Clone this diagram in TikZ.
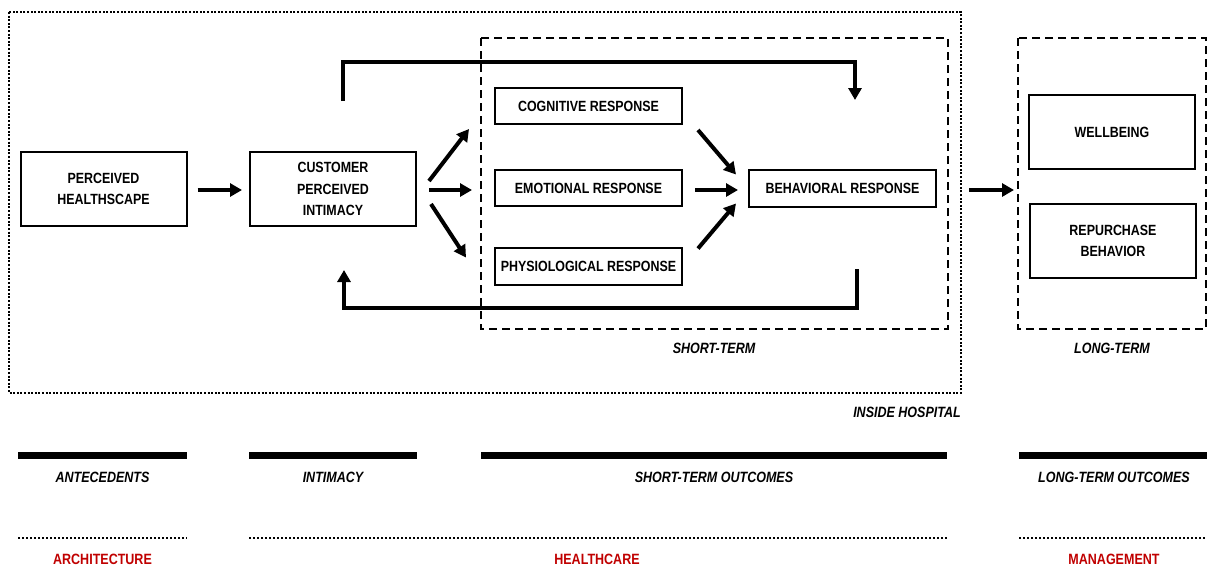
\documentclass[tikz,border=0pt]{standalone}
\usepackage{fontspec}
\setmainfont{Liberation Sans}[FakeStretch=0.84]
\usetikzlibrary{arrows.meta,calc}
\definecolor{redlab}{HTML}{C00000}
\tikzset{
  box/.style={draw,line width=2pt,minimum width=#1,inner sep=0pt,align=center,font=\fontsize{14.8}{21.5}\selectfont\bfseries},
  box/.default=166pt,
  arr/.style={line width=4pt,-{Triangle[length=12pt,width=13pt]}},
  fb/.style={line width=4pt,-{Triangle[length=12pt,width=13pt]}},
  grp/.style={draw,line width=2pt,dash pattern=on 8pt off 5pt},
  lbl/.style={font=\fontsize{14.9}{16}\selectfont\bfseries\itshape},
  redlbl/.style={font=\fontsize{14.9}{16}\selectfont\bfseries,text=redlab},
  bar/.style={line width=7pt},
  dotl/.style={line width=2pt,dash pattern=on 2pt off 2pt}
}
\begin{document}
\begin{tikzpicture}[x=1pt,y=-1pt]
\useasboundingbox (0,0) rectangle (1207,566);
% outer dotted
\draw[line width=2pt,dash pattern=on 2pt off 1.6pt] (9,12) rectangle (961,393);
\node[lbl,anchor=east,inner sep=0pt] (insideh) at (961,412) {INSIDE HOSPITAL};
% group boxes
\draw[grp] (481,38) rectangle (948,329);
\draw[grp] (1018,38) rectangle (1206,329);
\node[lbl] (shortt) at (714,348) {SHORT-TERM};
\node[lbl] (longt) at (1112,348) {LONG-TERM};
% nodes
\node[box,minimum height=74pt] (ph) at (103.5,189) {PERCEIVED\\HEALTHSCAPE};
\node[box,minimum height=74pt] (cpi) at (333,189) {CUSTOMER\\PERCEIVED\\INTIMACY};
\node[box=187pt,minimum height=36pt] (cog) at (588.5,106) {COGNITIVE RESPONSE};
\node[box=187pt,minimum height=36pt] (emo) at (588.5,188) {EMOTIONAL RESPONSE};
\node[box=187pt,minimum height=37pt] (phy) at (588.5,266.5) {PHYSIOLOGICAL RESPONSE};
\node[box=187pt,minimum height=37pt] (beh) at (842.5,188.5) {BEHAVIORAL RESPONSE};
\node[box,minimum height=74pt] (wb) at (1112,132) {WELLBEING};
\node[box,minimum height=74pt] (rb) at (1113,241) {REPURCHASE\\BEHAVIOR};
% arrows
\draw[arr] ($(ph.east)+(10,1)$) -- ($(cpi.west)+(-7,1)$);
\draw[arr] ($(cpi.east)+(12,-8)$) -- ($(cog.west)+(-25,23)$);
\draw[arr] ($(cpi.east)+(12,1)$) -- ($(emo.west)+(-22,2)$);
\draw[arr] ($(cpi.east)+(14,15)$) -- ($(phy.west)+(-28,-9)$);
\draw[arr] ($(cog.east)+(15,24)$) -- ($(beh.west)+(-12,-14)$);
\draw[arr] ($(emo.east)+(12,2)$) -- ($(beh.west)+(-10,1.5)$);
\draw[arr] ($(phy.east)+(15,-18)$) -- ($(beh.west)+(-12,15)$);
\draw[arr] ($(beh.east)+(32,1.5)$) -- ($(beh.east)+(77,1.5)$);
% feedback loops
\coordinate (t1) at ($(cpi.north)+(10,-50)$);
\coordinate (t2) at ($(beh.north)+(12.5,-69)$);
\draw[fb] (t1) -- (t1 |- 0,62) -- (t2 |- 0,62) -- (t2);
\coordinate (b1) at ($(beh.south)+(14.5,61)$);
\coordinate (b2) at ($(cpi.south)+(11,43)$);
\draw[fb] (b1) -- (b1 |- 0,308) -- (b2 |- 0,308) -- (b2);
% bottom bars
\draw[bar] (18,455) -- (187,455);
\draw[bar] (249,455) -- (417,455);
\draw[bar] (481,455) -- (947,455);
\draw[bar] (1019,455) -- (1207,455);
\node[lbl] (l1) at (102.5,477) {ANTECEDENTS};
\node[lbl] (l2) at (333,477) {INTIMACY};
\node[lbl] (l3) at (714,477) {SHORT-TERM OUTCOMES};
\node[lbl] (l4) at (1114,477) {LONG-TERM OUTCOMES};
\draw[dotl] (18,538) -- (187,538);
\draw[dotl] (249,538) -- (947,538);
\draw[dotl] (1019,538) -- (1207,538);
\node[redlbl] (r1) at (102.5,559) {ARCHITECTURE};
\node[redlbl] (r2) at (597,559) {HEALTHCARE};
\node[redlbl] (r3) at (1114,559) {MANAGEMENT};
\end{tikzpicture}
\end{document}
